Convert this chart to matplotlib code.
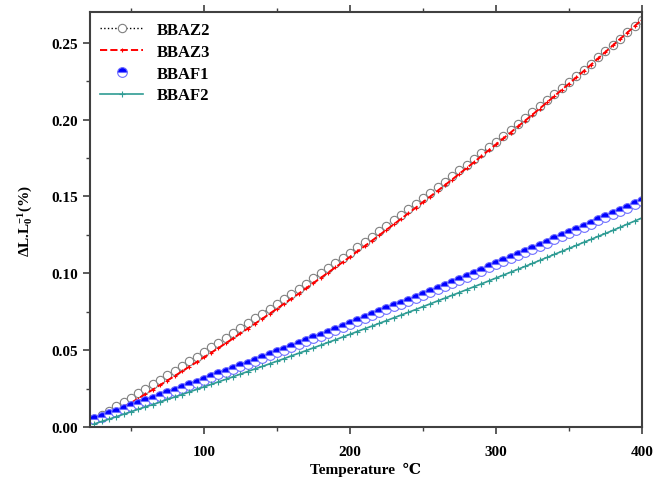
import numpy as np
import matplotlib
matplotlib.use("Agg")
import matplotlib.pyplot as plt
from matplotlib.ticker import MultipleLocator

plt.rcParams['font.family'] = ['Liberation Serif', 'DejaVu Serif']
plt.rcParams['font.weight'] = 'bold'
plt.rcParams['mathtext.fontset'] = 'custom'
plt.rcParams['mathtext.rm'] = 'Liberation Serif:bold'
plt.rcParams['mathtext.bf'] = 'Liberation Serif:bold'
plt.rcParams['mathtext.it'] = 'Liberation Serif:bold'

# temperatura (C), passo de 5
temperatura = list(range(25, 401, 5))

bbaz2 = [0.0050, 0.0078, 0.0106, 0.0134, 0.0163, 0.0191, 0.0220, 0.0249, 0.0278, 0.0308,
         0.0337, 0.0367, 0.0397, 0.0427, 0.0457, 0.0488, 0.0518, 0.0549, 0.0580, 0.0611,
         0.0643, 0.0674, 0.0706, 0.0738, 0.0770, 0.0802, 0.0835, 0.0867, 0.0900, 0.0933,
         0.0967, 0.1000, 0.1034, 0.1067, 0.1101, 0.1135, 0.1170, 0.1204, 0.1239, 0.1274,
         0.1309, 0.1344, 0.1379, 0.1415, 0.1451, 0.1487, 0.1523, 0.1559, 0.1596, 0.1632,
         0.1669, 0.1706, 0.1744, 0.1781, 0.1819, 0.1856, 0.1894, 0.1932, 0.1971, 0.2009,
         0.2048, 0.2087, 0.2126, 0.2165, 0.2205, 0.2244, 0.2284, 0.2324, 0.2364, 0.2405,
         0.2445, 0.2486, 0.2527, 0.2568, 0.2609, 0.2651]

bbaz3 = [0.0040, 0.0063, 0.0086, 0.0109, 0.0133, 0.0156, 0.0185, 0.0214, 0.0243, 0.0273,
         0.0302, 0.0332, 0.0362, 0.0392, 0.0422, 0.0453, 0.0483, 0.0514, 0.0545, 0.0576,
         0.0609, 0.0640, 0.0672, 0.0704, 0.0737, 0.0769, 0.0803, 0.0835, 0.0868, 0.0902,
         0.0937, 0.0970, 0.1004, 0.1038, 0.1072, 0.1106, 0.1142, 0.1176, 0.1211, 0.1247,
         0.1283, 0.1318, 0.1354, 0.1390, 0.1426, 0.1463, 0.1499, 0.1536, 0.1573, 0.1610,
         0.1648, 0.1685, 0.1723, 0.1762, 0.1800, 0.1838, 0.1877, 0.1915, 0.1955, 0.1993,
         0.2032, 0.2072, 0.2112, 0.2152, 0.2193, 0.2233, 0.2274, 0.2315, 0.2356, 0.2398,
         0.2440, 0.2482, 0.2524, 0.2566, 0.2608, 0.2651]

bbaf1 = [0.0050, 0.0067, 0.0083, 0.0100, 0.0117, 0.0134, 0.0151, 0.0168, 0.0185, 0.0202,
         0.0220, 0.0237, 0.0254, 0.0272, 0.0289, 0.0307, 0.0324, 0.0342, 0.0359, 0.0377,
         0.0395, 0.0413, 0.0431, 0.0449, 0.0467, 0.0485, 0.0503, 0.0522, 0.0540, 0.0558,
         0.0577, 0.0595, 0.0614, 0.0632, 0.0651, 0.0670, 0.0689, 0.0708, 0.0727, 0.0746,
         0.0765, 0.0784, 0.0803, 0.0822, 0.0841, 0.0861, 0.0880, 0.0900, 0.0919, 0.0939,
         0.0958, 0.0978, 0.0998, 0.1018, 0.1038, 0.1058, 0.1078, 0.1098, 0.1118, 0.1138,
         0.1158, 0.1179, 0.1199, 0.1220, 0.1240, 0.1261, 0.1281, 0.1302, 0.1323, 0.1344,
         0.1364, 0.1385, 0.1406, 0.1428, 0.1449, 0.1470]

bbaf2 = [0.0020, 0.0036, 0.0051, 0.0067, 0.0083, 0.0099, 0.0115, 0.0131, 0.0146, 0.0162,
         0.0179, 0.0195, 0.0211, 0.0228, 0.0244, 0.0261, 0.0277, 0.0294, 0.0310, 0.0327,
         0.0344, 0.0361, 0.0378, 0.0394, 0.0411, 0.0428, 0.0445, 0.0463, 0.0480, 0.0497,
         0.0515, 0.0532, 0.0550, 0.0567, 0.0585, 0.0603, 0.0621, 0.0639, 0.0656, 0.0674,
         0.0692, 0.0710, 0.0728, 0.0746, 0.0764, 0.0783, 0.0801, 0.0820, 0.0838, 0.0857,
         0.0875, 0.0894, 0.0913, 0.0931, 0.0950, 0.0969, 0.0988, 0.1007, 0.1026, 0.1045,
         0.1064, 0.1084, 0.1103, 0.1123, 0.1142, 0.1162, 0.1181, 0.1201, 0.1220, 0.1240,
         0.1259, 0.1279, 0.1299, 0.1320, 0.1340, 0.1360]

fig = plt.figure(figsize=(6.68, 4.81), dpi=100)
ax = fig.add_axes([0.1347, 0.1102, 0.8263, 0.8628])

ax.plot(temperatura, bbaz2, linestyle=':', color='black', linewidth=1,
        marker='o', markersize=6, markerfacecolor='white', markeredgecolor='#808080',
        markeredgewidth=0.8, label='BBAZ2')
ax.plot(temperatura, bbaz3, linestyle='--', color='red', linewidth=1.4,
        marker='+', markersize=3, markeredgewidth=0.8, label='BBAZ3')
ax.plot(temperatura, bbaf1, linestyle='none', marker='o', markersize=7,
        fillstyle='top', markerfacecolor='blue', markerfacecoloralt='white',
        markeredgecolor='#7070ff', markeredgewidth=0.8, label='BBAF1')
ax.plot(temperatura, bbaf2, linestyle='-', color='#2f9c94', linewidth=1.2,
        marker='+', markersize=4, markeredgewidth=0.8, label='BBAF2')

ax.set_xlim(22, 400)
ax.set_ylim(0, 0.27)
ax.xaxis.set_major_locator(MultipleLocator(100))
ax.xaxis.set_minor_locator(MultipleLocator(50))
ax.yaxis.set_major_locator(MultipleLocator(0.05))
ax.yaxis.set_minor_locator(MultipleLocator(0.025))
ax.yaxis.set_major_formatter(plt.FormatStrFormatter('%.2f'))

for s in ax.spines.values():
    s.set_color('#404040')
    s.set_linewidth(1.5)

ax.tick_params(which='both', direction='out', top=True, right=False, colors='#404040',
               labelcolor='black', labelsize=11)
ax.tick_params(which='major', length=5, width=1.2)
ax.tick_params(which='minor', length=3, width=1)
ax.tick_params(axis='x', which='major', pad=8)

ax.set_xlabel('Temperature  \u2103', fontsize=11, fontweight='bold', labelpad=3)
ax.set_ylabel(r'ΔL.L$_0^{-1}$(%)', fontsize=11, fontweight='bold', labelpad=12)

ax.legend(loc='upper left', frameon=False, handlelength=2.6, numpoints=1,
          borderaxespad=0.2, labelspacing=0.35, prop={'weight': 'bold', 'size': 12})

fig.savefig('out.png', dpi=100)
